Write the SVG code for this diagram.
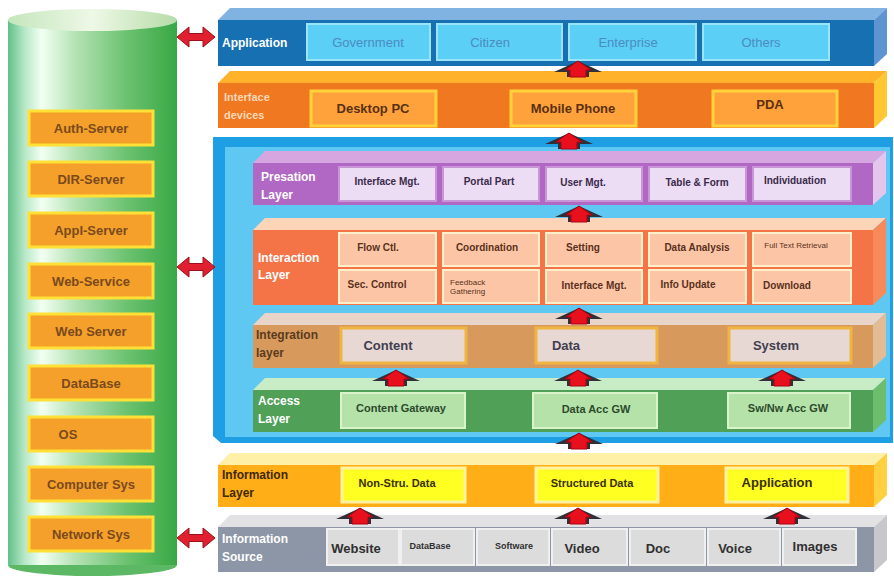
<svg xmlns="http://www.w3.org/2000/svg" xmlns:xlink="http://www.w3.org/1999/xlink" width="894" height="577" viewBox="0 0 894 577">
  <defs>
    <linearGradient id="cylBody" x1="0" y1="0" x2="1" y2="0">
      <stop offset="0" stop-color="#62c088"/>
      <stop offset="0.1" stop-color="#b8e8c8"/>
      <stop offset="0.2" stop-color="#f2fff2"/>
      <stop offset="0.4" stop-color="#b4e2b4"/>
      <stop offset="0.7" stop-color="#6cc270"/>
      <stop offset="1" stop-color="#38a845"/>
    </linearGradient>
    <linearGradient id="cylTop" x1="0" y1="0" x2="1" y2="0">
      <stop offset="0" stop-color="#c4e6bc"/>
      <stop offset="0.5" stop-color="#eef8e6"/>
      <stop offset="1" stop-color="#b6dca8"/>
    </linearGradient>
    <!-- red up arrow between layers -->
    <g id="up">
      <polygon points="-24,4 0,-7 24,4 11,4 11,9 -11,9 -11,4" fill="#303038"/>
      <path d="M-13,2 L0,-7 L13,2 L8,2 L8,9 L-8,9 L-8,2 Z" fill="#e8101c" stroke="#b00010" stroke-width="1" stroke-linejoin="round"/>
    </g>
    <!-- red double-headed arrow to the cylinder -->
    <path id="dbl" d="M0,0 L12,-10 L12,-3.5 L26,-3.5 L26,-10 L38,0 L26,10 L26,3.5 L12,3.5 L12,10 Z" fill="#e02030" stroke="#9a1018" stroke-width="1"/>
  </defs>
  <style>
    text { font-family: "Liberation Sans", Arial, sans-serif; font-weight: bold; }
    .lab { font-size: 12px; fill: #ffffff; }
    .srv { fill: #f5a02a; stroke: #ffe036; stroke-width: 3; }
    .srvT { font-size: 13px; fill: #7a4a1e; text-anchor: middle; }
    .appC { fill: #5ccff6; stroke: #9ae4fa; stroke-width: 2; }
    .appT { font-size: 13px; font-weight: normal; fill: #4a8cc2; text-anchor: middle; }
    .ifC { fill: #ffa23c; stroke: #ffd23a; stroke-width: 3; }
    .ifT { font-size: 13px; fill: #5a3010; text-anchor: middle; }
    .prC { fill: #ecdcf4; stroke: #c896d6; stroke-width: 2; }
    .prT { font-size: 10px; fill: #3a2a4a; text-anchor: middle; }
    .itC { fill: #fcc6a6; stroke: #fff0cc; stroke-width: 2; }
    .itT { font-size: 10px; fill: #5a3020; text-anchor: middle; }
    .igC { fill: #e8d8d4; stroke: #f0b440; stroke-width: 3; }
    .igT { font-size: 13px; fill: #404050; text-anchor: middle; }
    .acC { fill: #b4e2a8; stroke: #d8f4c8; stroke-width: 2; }
    .acT { font-size: 11px; fill: #2c4a2c; text-anchor: middle; }
    .inC { fill: #ffff22; stroke: #fff2a0; stroke-width: 3; }
    .inT { font-size: 11px; fill: #3a3000; text-anchor: middle; }
    .srcC { fill: #dcdcdc; stroke: #f0f0f0; stroke-width: 2; }
    .srcT { font-size: 13px; fill: #303030; text-anchor: middle; }
    .srcS { font-size: 9px; fill: #303030; text-anchor: middle; }
  </style>

  <rect width="894" height="577" fill="#ffffff"/>

  <!-- shared support cylinder -->
  <g id="support">
    <ellipse cx="92.5" cy="565" rx="84.5" ry="11" fill="#5cb864"/>
    <rect x="8" y="20" width="169" height="545" fill="url(#cylBody)"/>
    <ellipse cx="92.5" cy="20" rx="84.5" ry="11" fill="url(#cylTop)"/>
  </g>
  <g id="auth-server"><rect class="srv" x="29" y="111" width="124" height="34"/><text class="srvT" x="91" y="133">Auth-Server</text></g>
  <g id="dir-server"><rect class="srv" x="29" y="162" width="124" height="34"/><text class="srvT" x="91" y="184">DIR-Server</text></g>
  <g id="appl-server"><rect class="srv" x="29" y="213" width="124" height="34"/><text class="srvT" x="91" y="235">Appl-Server</text></g>
  <g id="web-service"><rect class="srv" x="29" y="264" width="124" height="34"/><text class="srvT" x="91" y="286">Web-Service</text></g>
  <g id="web-server"><rect class="srv" x="29" y="314" width="124" height="34"/><text class="srvT" x="91" y="336">Web Server</text></g>
  <g id="database"><rect class="srv" x="29" y="366" width="124" height="34"/><text class="srvT" x="91" y="388">DataBase</text></g>
  <g id="os"><rect class="srv" x="29" y="417" width="124" height="34"/><text class="srvT" x="68" y="439">OS</text></g>
  <g id="computer-sys"><rect class="srv" x="29" y="467" width="124" height="34"/><text class="srvT" x="91" y="489">Computer Sys</text></g>
  <g id="network-sys"><rect class="srv" x="29" y="517" width="124" height="34"/><text class="srvT" x="91" y="539">Network Sys</text></g>

  <!-- Application layer -->
  <g id="application">
    <polygon points="218,20 230,8 887,8 874,20" fill="#80b2e2"/>
    <polygon points="874,20 887,8 887,54 874,66" fill="#5e94d2"/>
    <rect x="218" y="20" width="656" height="46" fill="#1670b2"/>
    <text class="lab" x="222" y="47">Application</text>
    <rect class="appC" x="307" y="24" width="123" height="36"/><text class="appT" x="368" y="47">Government</text>
    <rect class="appC" x="437" y="24" width="125" height="36"/><text class="appT" x="490" y="47">Citizen</text>
    <rect class="appC" x="569" y="24" width="127" height="36"/><text class="appT" x="628" y="47">Enterprise</text>
    <rect class="appC" x="703" y="24" width="126" height="36"/><text class="appT" x="761" y="47">Others</text>
  </g>

  <!-- Interface devices layer -->
  <g id="interface-devices">
    <polygon points="218,83 230,71 887,71 874,83" fill="#ffb22a"/>
    <polygon points="874,83 887,71 887,116 874,128" fill="#ffc832"/>
    <rect x="218" y="83" width="656" height="45" fill="#f07820"/>
    <text class="lab" x="224" y="101" style="font-size:11px;fill:#ffd8b8">Interface</text>
    <text class="lab" x="224" y="119" style="font-size:11px;fill:#ffd8b8">devices</text>
    <rect class="ifC" x="311" y="91" width="125" height="35"/><text class="ifT" x="373" y="113">Desktop PC</text>
    <rect class="ifC" x="511" y="91" width="125" height="35"/><text class="ifT" x="573" y="113">Mobile Phone</text>
    <rect class="ifC" x="713" y="91" width="124" height="35"/><text class="ifT" x="770" y="109">PDA</text>
  </g>

  <!-- service platform container -->
  <g id="platform">
    <polygon points="213,137 893,137 893,443 221,443 213,436" fill="#1f9fe3"/>
    <rect x="225" y="147" width="665" height="290" fill="#5ec8f2"/>
  </g>

  <!-- Presentation layer -->
  <g id="presentation">
    <polygon points="253,163 265,151 886,151 873,163" fill="#d6a6e0"/>
    <polygon points="873,163 886,151 886,193 873,205" fill="#e4c6ec"/>
    <rect x="253" y="163" width="620" height="42" fill="#b068c4"/>
    <text class="lab" x="261" y="181">Presation</text>
    <text class="lab" x="261" y="199">Layer</text>
    <rect class="prC" x="339" y="167" width="97" height="34"/><text class="prT" x="387" y="185">Interface Mgt.</text>
    <rect class="prC" x="443" y="167" width="96" height="34"/><text class="prT" x="489" y="185">Portal Part</text>
    <rect class="prC" x="546" y="167" width="96" height="34"/><text class="prT" x="583" y="186">User Mgt.</text>
    <rect class="prC" x="649" y="167" width="97" height="34"/><text class="prT" x="697" y="186">Table &amp; Form</text>
    <rect class="prC" x="753" y="167" width="98" height="34"/><text class="prT" x="795" y="184">Individuation</text>
  </g>

  <!-- Interaction layer -->
  <g id="interaction">
    <polygon points="253,230 265,218 886,218 873,230" fill="#fcd4b8"/>
    <polygon points="873,230 886,218 886,293 873,305" fill="#f88a5a"/>
    <rect x="253" y="230" width="620" height="75" fill="#f47448"/>
    <text class="lab" x="258" y="262">Interaction</text>
    <text class="lab" x="258" y="279">Layer</text>
    <rect class="itC" x="339" y="233" width="97" height="33"/><text class="itT" x="378" y="251">Flow Ctl.</text>
    <rect class="itC" x="443" y="233" width="96" height="33"/><text class="itT" x="487" y="251">Coordination</text>
    <rect class="itC" x="546" y="233" width="96" height="33"/><text class="itT" x="583" y="251">Setting</text>
    <rect class="itC" x="649" y="233" width="97" height="33"/><text class="itT" x="697" y="251">Data Analysis</text>
    <rect class="itC" x="753" y="233" width="98" height="33"/><text class="itT" x="796" y="248" style="font-size:8px;font-weight:normal">Full Text Retrieval</text>
    <rect class="itC" x="339" y="270" width="97" height="33"/><text class="itT" x="377" y="288">Sec. Control</text>
    <rect class="itC" x="443" y="270" width="96" height="33"/>
    <text class="itT" x="450" y="285" style="font-size:8px;font-weight:normal;text-anchor:start">Feedback</text>
    <text class="itT" x="450" y="294" style="font-size:8px;font-weight:normal;text-anchor:start">Gathering</text>
    <rect class="itC" x="546" y="270" width="96" height="33"/><text class="itT" x="594" y="289">Interface Mgt.</text>
    <rect class="itC" x="649" y="270" width="97" height="33"/><text class="itT" x="688" y="288">Info Update</text>
    <rect class="itC" x="753" y="270" width="98" height="33"/><text class="itT" x="787" y="289">Download</text>
  </g>

  <!-- Integration layer -->
  <g id="integration">
    <polygon points="253,325 265,313 886,313 873,325" fill="#e8d4c8"/>
    <polygon points="873,325 886,313 886,356 873,368" fill="#e2bc94"/>
    <rect x="253" y="325" width="620" height="43" fill="#d89a5c"/>
    <text class="lab" x="256" y="339" style="fill:#5a3a1e">Integration</text>
    <text class="lab" x="256" y="357" style="fill:#5a3a1e">layer</text>
    <rect class="igC" x="341" y="328" width="125" height="35"/><text class="igT" x="388" y="350">Content</text>
    <rect class="igC" x="536" y="328" width="121" height="35"/><text class="igT" x="566" y="350">Data</text>
    <rect class="igC" x="729" y="328" width="122" height="35"/><text class="igT" x="776" y="350">System</text>
  </g>

  <!-- Access layer -->
  <g id="access">
    <polygon points="253,390 265,378 886,378 873,390" fill="#c8ecc6"/>
    <polygon points="873,390 886,378 886,420 873,432" fill="#6cbe6c"/>
    <rect x="253" y="390" width="620" height="42" fill="#50a058"/>
    <text class="lab" x="258" y="405">Access</text>
    <text class="lab" x="258" y="423">Layer</text>
    <rect class="acC" x="341" y="393" width="124" height="35"/><text class="acT" x="401" y="412">Content Gateway</text>
    <rect class="acC" x="533" y="393" width="124" height="35"/><text class="acT" x="596" y="413">Data Acc GW</text>
    <rect class="acC" x="728" y="393" width="122" height="35"/><text class="acT" x="788" y="412">Sw/Nw Acc GW</text>
  </g>

  <!-- Information layer -->
  <g id="information-layer">
    <polygon points="218,465 230,453 887,453 874,465" fill="#fff0a8"/>
    <polygon points="874,465 887,453 887,495 874,507" fill="#ffd040"/>
    <rect x="218" y="465" width="656" height="42" fill="#ffae18"/>
    <text class="lab" x="222" y="479" style="fill:#3e2800">Information</text>
    <text class="lab" x="222" y="497" style="fill:#3e2800">Layer</text>
    <rect class="inC" x="342" y="468" width="123" height="34"/><text class="inT" x="397" y="487">Non-Stru. Data</text>
    <rect class="inC" x="536" y="468" width="122" height="34"/><text class="inT" x="592" y="487">Structured Data</text>
    <rect class="inC" x="726" y="468" width="122" height="34"/><text class="inT" x="777" y="487" style="font-size:13px">Application</text>
  </g>

  <!-- Information source layer -->
  <g id="information-source">
    <polygon points="218,527 230,515 887,515 874,527" fill="#e2e2e4"/>
    <polygon points="874,527 887,515 887,560 874,572" fill="#c8c8cc"/>
    <rect x="218" y="527" width="656" height="45" fill="#8c96a6"/>
    <text class="lab" x="222" y="543">Information</text>
    <text class="lab" x="222" y="561">Source</text>
    <rect class="srcC" x="327" y="529" width="72" height="36"/><text class="srcT" x="356" y="553">Website</text>
    <rect class="srcC" x="401" y="529" width="73" height="36"/><text class="srcS" x="430" y="549">DataBase</text>
    <rect class="srcC" x="477" y="529" width="72" height="36"/><text class="srcS" x="514" y="549">Software</text>
    <rect class="srcC" x="552" y="529" width="75" height="36"/><text class="srcT" x="582" y="553">Video</text>
    <rect class="srcC" x="630" y="529" width="75" height="36"/><text class="srcT" x="658" y="553">Doc</text>
    <rect class="srcC" x="708" y="529" width="72" height="36"/><text class="srcT" x="735" y="553">Voice</text>
    <rect class="srcC" x="783" y="529" width="73" height="36"/><text class="srcT" x="815" y="551">Images</text>
  </g>

  <!-- connectors -->
  <g id="connectors">
    <use xlink:href="#dbl" x="177" y="37"/>
    <use xlink:href="#dbl" x="177" y="267"/>
    <use xlink:href="#dbl" x="177" y="538"/>
    <use xlink:href="#up" x="578" y="68"/>
    <use xlink:href="#up" x="569" y="140"/>
    <use xlink:href="#up" x="579" y="213"/>
    <use xlink:href="#up" x="579" y="315"/>
    <use xlink:href="#up" x="396" y="377"/>
    <use xlink:href="#up" x="578" y="377"/>
    <use xlink:href="#up" x="782" y="377"/>
    <use xlink:href="#up" x="579" y="440"/>
    <use xlink:href="#up" x="360" y="515"/>
    <use xlink:href="#up" x="578" y="515"/>
    <use xlink:href="#up" x="787" y="515"/>
  </g>
</svg>
